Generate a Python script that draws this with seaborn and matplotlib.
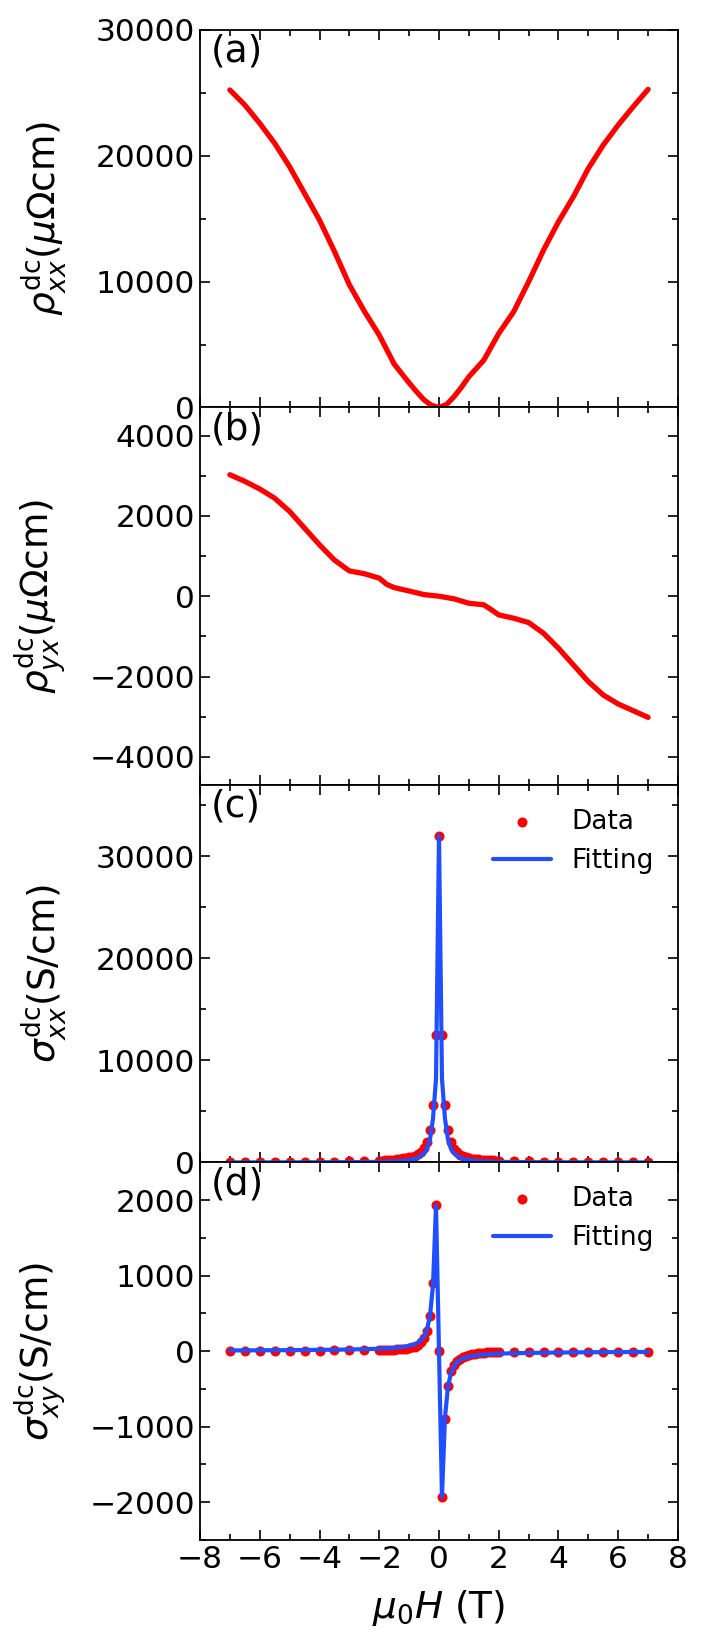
import numpy as np
import pandas as pd
import seaborn as sns
import matplotlib
matplotlib.use('Agg')
import matplotlib.pyplot as plt
from matplotlib.ticker import MultipleLocator

sns.set_style('ticks', {'axes.edgecolor': 'black', 'xtick.color': 'black', 'ytick.color': 'black',
                        'text.color': 'black', 'axes.labelcolor': 'black'})
plt.rcParams['font.family'] = ['DejaVu Sans']
plt.rcParams['mathtext.fontset'] = 'dejavusans'

# ---- data ----
# (a) longitudinal resistivity
H_xx = [-7, -6.5, -6, -5.5, -5, -4.5, -4, -3.5, -3, -2.5, -2, -1.5, -1, -0.75, -0.5, -0.25, 0,
        0.25, 0.5, 0.75, 1, 1.5, 2, 2.5, 3, 3.5, 4, 4.5, 5, 5.5, 6, 6.5, 7]
rho_xx = [25230, 24040, 22580, 20990, 19130, 17010, 14890, 12400, 9750, 7650, 5750, 3450, 1950, 1250, 600, 170, 0,
          230, 850, 1600, 2440, 3760, 5880, 7610, 9990, 12510, 14760, 16750, 19000, 20860, 22450, 23900, 25280]

# (b) Hall resistivity
H_yx = [-7, -6.5, -6, -5.5, -5, -4.5, -4, -3.5, -3, -2.5, -2, -1.75, -1.5, -1, -0.5, 0,
        0.5, 1, 1.5, 1.75, 2, 2.5, 3, 3.5, 4, 4.5, 5, 5.5, 6, 6.5, 7]
rho_yx = [3025, 2860, 2670, 2440, 2110, 1695, 1280, 900, 630, 560, 450, 295, 215, 130, 40, 0,
          -65, -175, -215, -335, -465, -548, -656, -922, -1296, -1712, -2127, -2460, -2684, -2850, -3017]

# (c), (d) conductivities: data points and fits
H_sig = [-7, -6.5, -6, -5.5, -5, -4.5, -4, -3.5, -3, -2.5,
         -2.0, -1.9, -1.8, -1.7, -1.6, -1.5, -1.4, -1.3, -1.2, -1.1, -1.0,
         -0.9, -0.8, -0.7, -0.6, -0.5, -0.4, -0.3, -0.2, -0.1, 0.0,
         0.1, 0.2, 0.3, 0.4, 0.5, 0.6, 0.7, 0.8, 0.9, 1.0,
         1.1, 1.2, 1.3, 1.4, 1.5, 1.6, 1.7, 1.8, 1.9, 2.0,
         2.5, 3, 3.5, 4, 4.5, 5, 5.5, 6, 6.5, 7]

sxx_data = [40, 42, 44, 48, 52, 59, 67, 80, 103, 130,
            175, 190, 205, 225, 250, 285, 315, 350, 390, 440, 500,
            570, 660, 800, 1000, 1400, 2050, 3170, 5620, 12480, 32000,
            12480, 5620, 3170, 2050, 1350, 980, 760, 620, 520, 420,
            370, 330, 300, 275, 255, 235, 215, 195, 180, 165,
            130, 100, 80, 68, 60, 53, 48, 45, 42, 40]
sxx_fit = [6, 7, 8, 10, 12, 15, 19, 24, 32, 45,
           65, 72, 80, 90, 100, 115, 130, 150, 175, 205, 245,
           300, 380, 490, 650, 900, 1350, 2300, 4300, 8200, 32000,
           8200, 4300, 2300, 1350, 900, 650, 490, 380, 300, 245,
           205, 175, 150, 130, 115, 100, 90, 80, 72, 65,
           45, 32, 24, 19, 15, 12, 10, 8, 7, 6]

sxy_data = [5, 5, 6, 6, 7, 8, 9, 10, 11, 12,
            13, 14, 15, 17, 19, 21, 23, 26, 30, 35, 40,
            50, 62, 85, 120, 176, 265, 465, 907, 1938, 0,
            -1925, -898, -465, -265, -177, -130, -100, -80, -65, -52,
            -42, -35, -28, -22, -18, -14, -11, -8, -6, -5,
            -4, -4, -4, -4, -4, -4, -4, -4, -5, -5]
sxy_fit = [10, 11, 12, 13, 14, 16, 18, 20, 23, 27,
           32, 34, 36, 39, 42, 45, 49, 53, 58, 64, 72,
           82, 95, 115, 145, 195, 290, 470, 880, 1930, 0,
           -1930, -880, -470, -290, -195, -145, -115, -95, -82, -72,
           -64, -58, -53, -49, -45, -42, -39, -36, -34, -32,
           -27, -23, -20, -18, -16, -14, -13, -12, -11, -10]

RED = '#ff0000'
BLUE = '#1f4fff'

fig, axes = plt.subplots(4, 1, figsize=(7.06, 16.47), dpi=100, sharex=True)
fig.subplots_adjust(left=0.2833, right=0.9603, top=0.9818, bottom=0.065, hspace=0)
ax_a, ax_b, ax_c, ax_d = axes

sns.lineplot(x=H_xx, y=rho_xx, ax=ax_a, color=RED, lw=3.8, sort=False, estimator=None)
sns.lineplot(x=H_yx, y=rho_yx, ax=ax_b, color=RED, lw=3.8, sort=False, estimator=None)

for ax, yd, yf in [(ax_c, sxx_data, sxx_fit), (ax_d, sxy_data, sxy_fit)]:
    sns.scatterplot(x=H_sig, y=yd, ax=ax, color=RED, s=52, linewidth=0, label='Data', zorder=2)
    sns.lineplot(x=H_sig, y=yf, ax=ax, color=BLUE, lw=3.0, sort=False, estimator=None,
                 label='Fitting', zorder=3)
    ax.legend(loc='upper right', frameon=False, fontsize=19, handlelength=2.2,
              borderaxespad=0.5)

# axes limits and ticks
ax_a.set_ylim(0, 30000)
ax_a.yaxis.set_major_locator(MultipleLocator(10000))
ax_a.yaxis.set_minor_locator(MultipleLocator(5000))
ax_b.set_ylim(-4700, 4700)
ax_b.yaxis.set_major_locator(MultipleLocator(2000))
ax_b.yaxis.set_minor_locator(MultipleLocator(1000))
ax_c.set_ylim(0, 37000)
ax_c.yaxis.set_major_locator(MultipleLocator(10000))
ax_c.yaxis.set_minor_locator(MultipleLocator(5000))
ax_d.set_ylim(-2500, 2500)
ax_d.yaxis.set_major_locator(MultipleLocator(1000))
ax_d.yaxis.set_minor_locator(MultipleLocator(500))

ax_d.set_xlim(-8, 8)
ax_d.xaxis.set_major_locator(MultipleLocator(2))
ax_d.xaxis.set_minor_locator(MultipleLocator(1))

ylabels = [r'$\rho^{\mathrm{dc}}_{xx}(\mu\Omega\mathrm{cm})$',
           r'$\rho^{\mathrm{dc}}_{yx}(\mu\Omega\mathrm{cm})$',
           r'$\sigma^{\mathrm{dc}}_{xx}$(S/cm)',
           r'$\sigma^{\mathrm{dc}}_{xy}$(S/cm)']
tags = ['(a)', '(b)', '(c)', '(d)']

for ax, lab, tag in zip(axes, ylabels, tags):
    ax.tick_params(which='both', direction='in', top=True, right=True, width=1.2,
                   labelsize=22.5)
    ax.tick_params(which='major', length=7)
    ax.tick_params(which='minor', length=4)
    for sp in ax.spines.values():
        sp.set_linewidth(1.3)
    ax.set_ylabel(lab, fontsize=27)
    ax.yaxis.set_label_coords(-0.275, 0.5)
    ax.text(0.022, 0.99, tag, transform=ax.transAxes, fontsize=27, ha='left', va='top')

ax_d.set_xlabel(r'$\mu_0H$ (T)', fontsize=27, labelpad=10)

fig.savefig('out.png', dpi=100)
